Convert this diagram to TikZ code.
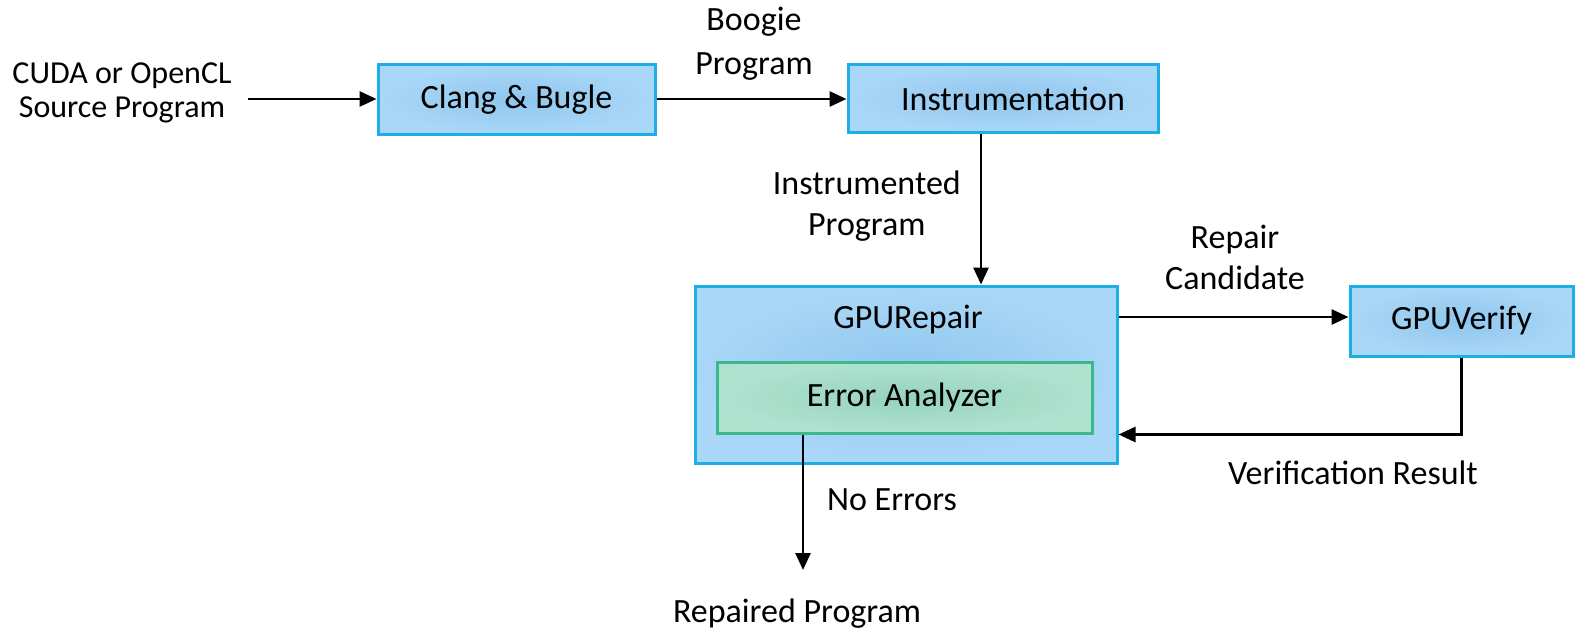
\documentclass[tikz,border=0pt]{standalone}
\usepackage{fontspec}
\setmainfont{Carlito}
\usetikzlibrary{arrows.meta,calc}
\definecolor{boxfill}{HTML}{AAD7F7}
\definecolor{boxin}{HTML}{8FC6EE}
\definecolor{boxline}{HTML}{1EAEE6}
\definecolor{eafill}{HTML}{B0E2D0}
\definecolor{eain}{HTML}{96D3BC}
\definecolor{ealine}{HTML}{3DB88C}
\tikzset{
  bluebox/.style={draw=boxline, line width=3pt, shading=radial, inner color=boxin, outer color=boxfill, inner sep=0pt, font=\fontsize{34}{34}\selectfont},
  greenbox/.style={draw=ealine, line width=3pt, shading=radial, inner color=eain, outer color=eafill, inner sep=0pt, font=\fontsize{34}{34}\selectfont},
  lbl/.style={align=center, inner sep=0pt, font=\fontsize{34}{34}\selectfont},
  arr/.style={line width=2.8pt, -{Triangle[length=17pt,width=15pt]}},
  ln/.style={line width=2.8pt}
}
\begin{document}
\begin{tikzpicture}[x=1pt,y=-1pt]
\useasboundingbox (0,0) rectangle (1577,634);
\node[lbl, font=\fontsize{32}{34}\selectfont] (src) at (122,93) {CUDA or OpenCL\\Source Program};
\node[bluebox, minimum width=277pt, minimum height=69pt] (clang) at (516.5,99.5) {Clang \& Bugle};
\node[bluebox, minimum width=310pt, minimum height=67pt] (instr) at (1003,98.5) {\hspace*{20pt}Instrumentation};
\node[bluebox, minimum width=422pt, minimum height=177pt] (gpu) at (906,374.5) {};
\node[lbl] (gputxt) at (908,320) {GPURepair};
\node[greenbox, minimum width=375pt, minimum height=71pt] (ea) at (904.5,397.5) {Error Analyzer};
\node[bluebox, minimum width=223pt, minimum height=70pt] (verify) at (1461.5,321) {GPUVerify};
\node[lbl] (boogie) at (754,44) {Boogie\\[10pt]Program};
\node[lbl, anchor=east] (instlbl) at (961,206) {Instrumented\\[7pt]Program};
\node[lbl] (cand) at (1235,257) {Repair\\[7pt]Candidate};
\node[lbl] (vres) at (1353,473) {Verification Result};
\node[lbl] (noerr) at (892,500) {No Errors};
\node[lbl] (rep) at (797,614) {Repaired Program};
\coordinate (srcend) at (248,99);
\coordinate (dx) at (981,0);
\coordinate (eax) at (803,0);
\coordinate (repend) at (803,570);
\draw[arr] (srcend) -- (srcend -| clang.west);
\draw[arr] (clang.east |- 0,99) -- (instr.west |- 0,99);
\draw[arr] (instr.south -| dx) -- (gpu.north -| dx);
\draw[arr] (gpu.east |- 0,317) -- (verify.west |- 0,317);
\draw[arr] (verify.south) |- (ea.south -| gpu.east);
\draw[arr] (ea.south -| eax) -- (repend);
\end{tikzpicture}
\end{document}
